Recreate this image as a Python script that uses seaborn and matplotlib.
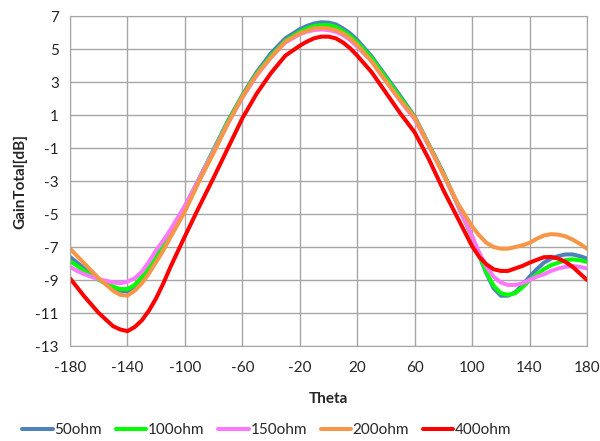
## GainTotal vs Theta for several load resistances
import pandas as pd
import numpy as np
import matplotlib.pyplot as plt
import seaborn as sns

theta = [-180, -175, -170, -160, -150, -145, -140, -135, -130, -125, -120, -115, -110,
         -100, -90, -80, -70, -60, -50, -40, -30, -20,
         -15, -10, -5, 0, 5, 10, 15, 20,
         30, 40, 50, 60, 70, 80, 90, 100,
         105, 110, 115, 120, 125, 130, 135, 140, 145, 150, 155, 160, 165, 170, 175, 180]

gain_50 = [-7.6, -7.95, -8.3, -8.95, -9.5, -9.65, -9.7, -9.45, -8.95, -8.4, -7.7, -6.95, -6.2,
           -4.6, -2.85, -1.1, 0.65, 2.2, 3.6, 4.75, 5.65, 6.2,
           6.4, 6.55, 6.62, 6.6, 6.5, 6.25, 5.95, 5.55,
           4.55, 3.35, 2.15, 0.9, -0.8, -2.5, -4.45, -6.35,
           -7.55, -8.6, -9.5, -9.95, -9.95, -9.75, -9.3, -8.8, -8.35, -7.95, -7.7, -7.55, -7.45, -7.45, -7.55, -7.7]
gain_100 = [-7.85, -8.15, -8.45, -9.0, -9.4, -9.55, -9.55, -9.3, -8.8, -8.2, -7.5, -6.8, -6.05,
            -4.55, -2.85, -1.15, 0.6, 2.15, 3.5, 4.6, 5.5, 6.05,
            6.25, 6.4, 6.45, 6.45, 6.35, 6.1, 5.8, 5.4,
            4.45, 3.25, 2.05, 0.85, -0.85, -2.55, -4.45, -6.4,
            -7.5, -8.55, -9.35, -9.8, -9.9, -9.8, -9.45, -9.0, -8.65, -8.35, -8.1, -7.95, -7.8, -7.75, -7.8, -7.9]
gain_150 = [-8.2, -8.45, -8.65, -8.95, -9.15, -9.2, -9.1, -8.9, -8.5, -7.9, -7.2, -6.6, -5.95,
            -4.5, -2.85, -1.2, 0.5, 2.05, 3.4, 4.5, 5.4, 5.9,
            6.05, 6.15, 6.18, 6.15, 6.05, 5.85, 5.55, 5.15,
            4.25, 3.05, 1.85, 0.75, -0.9, -2.6, -4.45, -6.35,
            -7.35, -8.2, -8.8, -9.15, -9.3, -9.3, -9.2, -9.0, -8.8, -8.65, -8.45, -8.3, -8.2, -8.15, -8.2, -8.3]
gain_200 = [-7.1, -7.55, -8.0, -8.9, -9.65, -9.9, -9.95, -9.65, -9.2, -8.6, -7.9, -7.2, -6.4,
            -4.85, -3.0, -1.3, 0.5, 2.1, 3.45, 4.5, 5.45, 5.95,
            6.1, 6.25, 6.28, 6.25, 6.15, 5.95, 5.65, 5.25,
            4.25, 3.05, 1.9, 0.85, -0.85, -2.6, -4.35, -5.75,
            -6.3, -6.75, -7.0, -7.1, -7.1, -7.0, -6.9, -6.75, -6.5, -6.3, -6.22, -6.25, -6.35, -6.55, -6.8, -7.1]
gain_400 = [-8.9, -9.45, -10.0, -11.0, -11.8, -12.0, -12.1, -11.85, -11.45, -10.85, -10.1, -9.2, -8.2,
            -6.35, -4.55, -2.8, -1.0, 0.8, 2.3, 3.55, 4.6, 5.2,
            5.45, 5.65, 5.75, 5.75, 5.65, 5.4, 5.05, 4.6,
            3.6, 2.35, 1.1, -0.05, -1.7, -3.55, -5.25, -6.95,
            -7.6, -8.05, -8.35, -8.45, -8.45, -8.3, -8.15, -7.95, -7.78, -7.62, -7.6, -7.7, -7.9, -8.2, -8.6, -9.0]

labels = ["50ohm", "100ohm", "150ohm", "200ohm", "400ohm"]
colors = ["#4F81BD", "#00FF00", "#FF77FF", "#F79646", "#FF0000"]

df = pd.DataFrame({"Theta": theta * 5,
                   "Gain": gain_50 + gain_100 + gain_150 + gain_200 + gain_400,
                   "Load": [l for l in labels for _ in theta]})

sns.set_style("white")
plt.rcParams['font.family'] = ['Lato', 'DejaVu Sans']
plt.rcParams['axes.unicode_minus'] = False

fig = plt.figure(figsize=(6, 4.41), dpi=100)
ax = fig.add_axes([0.1167, 0.2154, 0.8616, 0.7483])

sns.lineplot(data=df, x="Theta", y="Gain", hue="Load", palette=colors,
             linewidth=2.9, ax=ax, solid_capstyle="round", solid_joinstyle="round")

ax.set_xlim(-180, 180)
ax.set_ylim(-13, 7)
ax.set_xticks(np.arange(-180, 181, 40))
ax.set_yticks(np.arange(-13, 8, 2))
ax.grid(True, color="#A6A6A6", linewidth=1)
for s in ax.spines.values():
    s.set_color("#A6A6A6")
ax.tick_params(axis="x", length=0, labelsize=11, pad=11)
ax.tick_params(axis="y", length=0, labelsize=11, pad=8)
ax.set_xlabel("Theta", fontsize=11, fontweight="bold", labelpad=12)
ax.set_ylabel("GainTotal[dB]", fontsize=11, fontweight="bold", labelpad=6)

handles, _ = ax.get_legend_handles_labels()
ax.get_legend().remove()
fig.legend(handles, labels, loc="center", bbox_to_anchor=(0.445, 0.025), ncol=5,
           frameon=False, fontsize=11, handlelength=2.0, handletextpad=0.1,
           columnspacing=0.9, borderaxespad=0)

plt.savefig("out.png", dpi=100)
